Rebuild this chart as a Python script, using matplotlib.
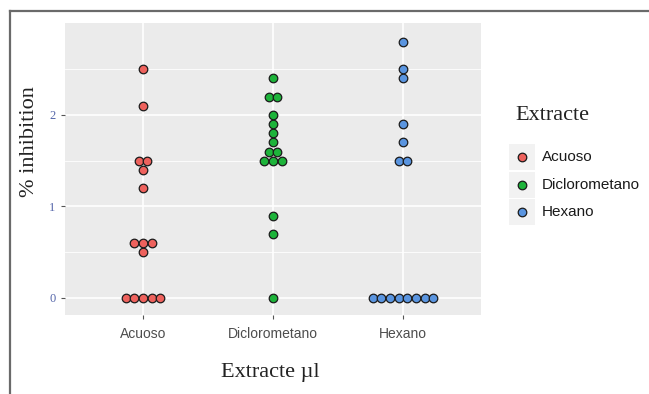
import numpy as np
import matplotlib.pyplot as plt
from matplotlib.patches import Rectangle

# datos
categorias = ["Acuoso", "Diclorometano", "Hexano"]
acuoso = [2.5, 2.1, 1.5, 1.5, 1.4, 1.2, 0.6, 0.6, 0.6, 0.5, 0, 0, 0, 0, 0]
dicloro = [2.4, 2.2, 2.2, 2.0, 1.9, 1.8, 1.7, 1.6, 1.6, 1.5, 1.5, 1.5, 0.9, 0.7, 0]
hexano = [2.8, 2.5, 2.4, 1.9, 1.7, 1.5, 1.5, 0, 0, 0, 0, 0, 0, 0, 0]
colores = ["#EE625D", "#1DB33A", "#5A95E0"]
yticks = [0, 1, 2]

serif = "Liberation Serif"
sans = "Liberation Sans"

fig = plt.figure(figsize=(6.49, 3.94), dpi=100)
ax = fig.add_axes([65 / 649, 1 - 315 / 394, 416 / 649, 292 / 394])
ax.set_facecolor("#EBEBEB")

paso = 0.067  # separacion horizontal de los puntos apilados
for i, vals in enumerate([acuoso, dicloro, hexano]):
    xs, ys = [], []
    for v in sorted(set(vals)):
        n = vals.count(v)
        for k in range(n):
            xs.append(i + 1 + (k - (n - 1) / 2) * paso)
            ys.append(v)
    ax.scatter(xs, ys, s=38, color=colores[i], edgecolor="#1a1a1a",
               linewidth=0.9, zorder=3)

ax.set_xlim(0.4, 3.6)
ax.set_ylim(-0.186, 3.005)
ax.set_xticks([1, 2, 3])
ax.set_xticklabels(categorias, fontfamily=sans, fontsize=10, color="#4d4d4d")
ax.set_yticks(yticks)
ax.set_yticklabels([str(t) for t in yticks], fontfamily=serif, fontsize=9,
                   color="#5566aa")
ax.set_yticks([0.5, 1.5, 2.5], minor=True)
ax.tick_params(axis="both", which="major", length=3, width=0.8, color="#555555")
ax.tick_params(axis="x", pad=6)
ax.tick_params(axis="y", pad=4)
ax.tick_params(which="minor", length=0)
ax.grid(which="major", color="white", linewidth=1.2)
ax.grid(which="minor", axis="y", color="white", linewidth=0.6)
ax.set_axisbelow(True)
for sp in ax.spines.values():
    sp.set_visible(False)

fig.text(30 / 649, 1 - 142 / 394, "% inhibition", rotation=90, ha="center",
         va="center", fontfamily=serif, fontsize=16, color="#222222")
fig.text(270 / 649, 1 - 373 / 394, "Extracte \u00b5l", ha="center", va="center",
         fontfamily=serif, fontsize=16, color="#222222")

# capa en pixeles para leyenda y marco
lax = fig.add_axes([0, 0, 1, 1])
lax.set_xlim(0, 649)
lax.set_ylim(394, 0)
lax.axis("off")
lax.patch.set_alpha(0)

lax.plot([10, 10], [11, 394], color="#6a6a6a", lw=1.6)
lax.plot([10, 649], [11, 11], color="#6a6a6a", lw=1.6)

lax.text(515, 115, "Extracte", fontfamily=serif, fontsize=16, color="#222222",
         va="center", ha="left")
for i, cat in enumerate(categorias):
    yc = 157 + i * 27.5
    lax.add_patch(Rectangle((509, yc - 13), 26, 26, color="#F2F2F2", lw=0))
    lax.scatter([522], [yc], s=38, color=colores[i], edgecolor="#1a1a1a",
                linewidth=0.9, zorder=3)
    lax.text(542, yc, cat, fontfamily=sans, fontsize=11, color="#1a1a1a",
             va="center", ha="left")

fig.savefig("out.png", dpi=100)
